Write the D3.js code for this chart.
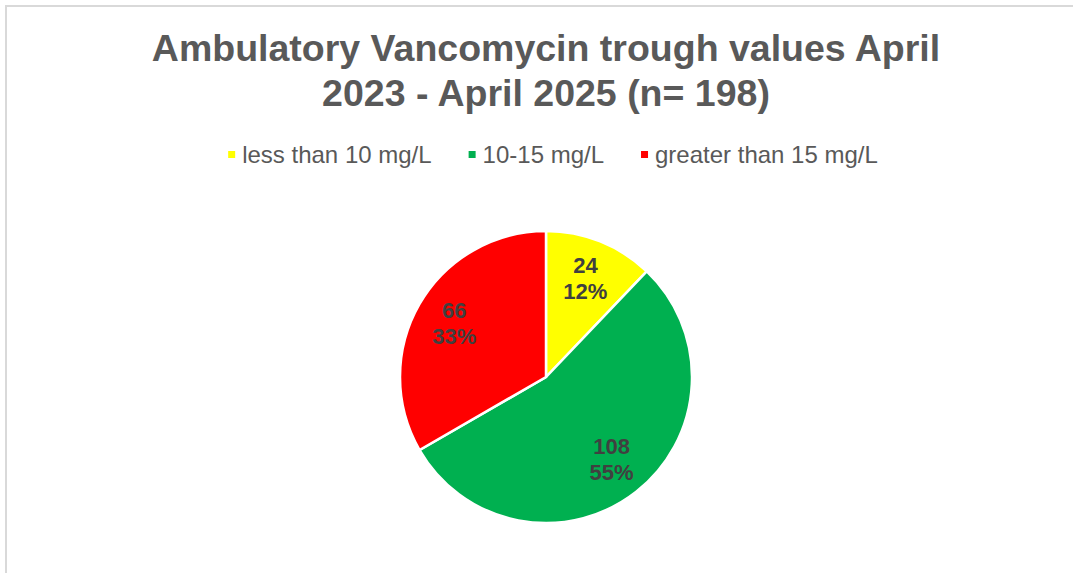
<!DOCTYPE html>
<html>
<head>
<meta charset="utf-8">
<script src="https://cdn.jsdelivr.net/npm/d3@7"></script>
<style>
    body { margin: 0; background: #fff; }
    text { font-family: "Liberation Sans", Arial, sans-serif; }
    .title { font-size: 37.5px; font-weight: bold; fill: #595959; }
    .legend-label { font-size: 24px; fill: #595959; }
    .slice-label { font-size: 22px; font-weight: bold; fill: #404040; }
</style>
</head>
<body>
<div class="graphic"></div>
<script>
const categories = ["less than 10 mg/L", "10-15 mg/L", "greater than 15 mg/L"]
const counts = [24, 108, 66]
const percents = ["12%", "55%", "33%"]
const colors = ["#FFFF00", "#00B050", "#FF0000"]
const titleLines = ["Ambulatory Vancomycin trough values April", "2023 - April 2025 (n= 198)"]

const $graphic = d3.select('.graphic')

function setupChart(){
    var width = 1073
    var height = 573
    var cx = 546
    var cy = 377
    var radius = 146

    let svg = $graphic.append("svg")
        .attr("width", width)
        .attr("height", height)

    // chart frame (cut off on the right and bottom in the screenshot)
    svg.append("rect")
        .attr("x", 6)
        .attr("y", 6)
        .attr("width", width)
        .attr("height", height)
        .style("fill", "none")
        .style("stroke", "#d9d9d9")
        .style("stroke-width", 2)

    svg.selectAll(".title")
        .data(titleLines)
        .enter().append("text")
        .attr("class", "title")
        .attr("x", cx)
        .attr("y", (d, i) => 61 + i * 45)
        .attr("text-anchor", "middle")
        .text(d => d)

    // legend, laid out from measured text widths
    let legend = svg.append("g").attr("class", "legend")
    let items = legend.selectAll("g")
        .data(categories)
        .enter().append("g")

    items.append("rect")
        .attr("width", 7)
        .attr("height", 7)
        .attr("y", 151)
        .style("fill", (d, i) => colors[i])

    items.append("text")
        .attr("class", "legend-label")
        .attr("y", 163)
        .text(d => d)

    var gap = 37
    var widths = []
    items.select("text").each(function(){ widths.push(this.getComputedTextLength() + 14) })
    var total = d3.sum(widths) + gap * (widths.length - 1)
    var x0 = 553 - total / 2
    items.each(function(d, i){
        var g = d3.select(this)
        g.select("rect").attr("x", x0)
        g.select("text").attr("x", x0 + 14)
        x0 += widths[i] + gap
    })

    var pie = d3.pie().sort(null).value(d => d)
    var arc = d3.arc().innerRadius(0).outerRadius(radius)
    var labelArc = d3.arc().innerRadius(106).outerRadius(106)

    let pieG = svg.append("g")
        .attr("transform", "translate(" + cx + "," + cy + ")")

    let slices = pie(counts)

    pieG.selectAll("path")
        .data(slices)
        .enter().append("path")
        .attr("d", arc)
        .style("fill", (d, i) => colors[i])
        .style("stroke", "#fff")
        .style("stroke-width", 2.5)

    let labels = pieG.selectAll(".slice-label")
        .data(slices)
        .enter().append("text")
        .attr("class", "slice-label")
        .attr("text-anchor", "middle")

    labels.append("tspan")
        .attr("x", d => labelArc.centroid(d)[0])
        .attr("y", d => labelArc.centroid(d)[1] - 6)
        .text(d => d.data)

    labels.append("tspan")
        .attr("x", d => labelArc.centroid(d)[0])
        .attr("y", d => labelArc.centroid(d)[1] + 20)
        .text((d, i) => percents[i])
}

setupChart()
</script>
</body>
</html>
